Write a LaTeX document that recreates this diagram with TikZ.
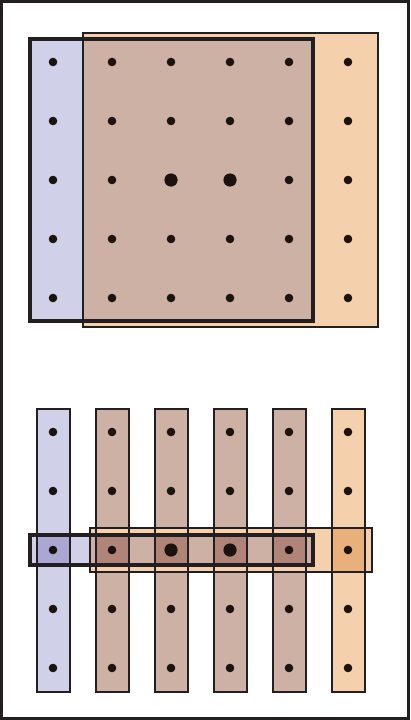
\documentclass[tikz,border=0pt]{standalone}
\definecolor{lav}{RGB}{208,208,232}
\definecolor{org}{RGB}{244,209,172}
\definecolor{brn}{RGB}{206,177,165}
\definecolor{dlav}{RGB}{170,168,210}
\definecolor{dbrn}{RGB}{176,132,118}
\definecolor{dorg}{RGB}{232,176,122}
\definecolor{edge}{RGB}{35,31,32}
\definecolor{dotc}{RGB}{28,18,14}
\begin{document}
\begin{tikzpicture}[x=1pt,y=-1pt,
  thinedge/.style={draw=edge, line width=2pt},
  thickedge/.style={draw=edge, line width=4pt},
  dotsmall/.style={fill=dotc},
]
\useasboundingbox (0,0) rectangle (410,720);
\fill[white] (0,0) rectangle (410,720);

% ---------- top: fills ----------
\fill[org] (83,32.5) rectangle (377.7,327);
\fill[lav] (30.3,38.7) rectangle (313,321.3);
\fill[brn] (83,38.7) rectangle (313,321.3);

% ---------- bottom: column fills ----------
\fill[lav] (36.5,408.5) rectangle (69.5,691.5);
\foreach \x in {112,171,230,289}
  \fill[brn] ({\x-16.5},408.5) rectangle ({\x+16.5},691.5);
\fill[org] (331.5,408.5) rectangle (364.5,691.5);

% ---------- bottom: bar fills ----------
\fill[lav] (30.3,535) rectangle (89.5,565);
\fill[dlav] (36.5,535) rectangle (69.5,565);
\fill[org] (89.5,528) rectangle (371.7,571.7);
\fill[brn] (89.5,535) rectangle (313,565);
\foreach \x in {112,171,230,289}
  \fill[dbrn] ({\x-16.5},535) rectangle ({\x+16.5},565);
\fill[dorg] (331.5,528) rectangle (364.5,571.7);

% ---------- borders ----------
\path[thinedge] (83,32.5) rectangle (377.7,327);
\path[thickedge] (30.3,38.7) rectangle (313,321.3);
\foreach \x in {53,112,171,230,289,348}
  \path[thinedge] ({\x-16.5},408.5) rectangle ({\x+16.5},691.5);
\path[thinedge] (89.5,528) rectangle (371.7,571.7);
\path[thickedge] (30.3,535) rectangle (313,565);

% ---------- dots ----------
\foreach \x in {53,112,171,230,289,348}
  \foreach \y in {62,121,180,239,298,432,491,550,609,668}
    \fill[dotsmall] (\x,\y) circle (4.3);
\foreach \x in {171,230}
  \foreach \y in {180,550}
    \fill[dotsmall] (\x,\y) circle (6.6);

% ---------- frame ----------
\draw[edge, line width=3pt] (1.5,1.5) rectangle (408.5,718.5);
\end{tikzpicture}
\end{document}
